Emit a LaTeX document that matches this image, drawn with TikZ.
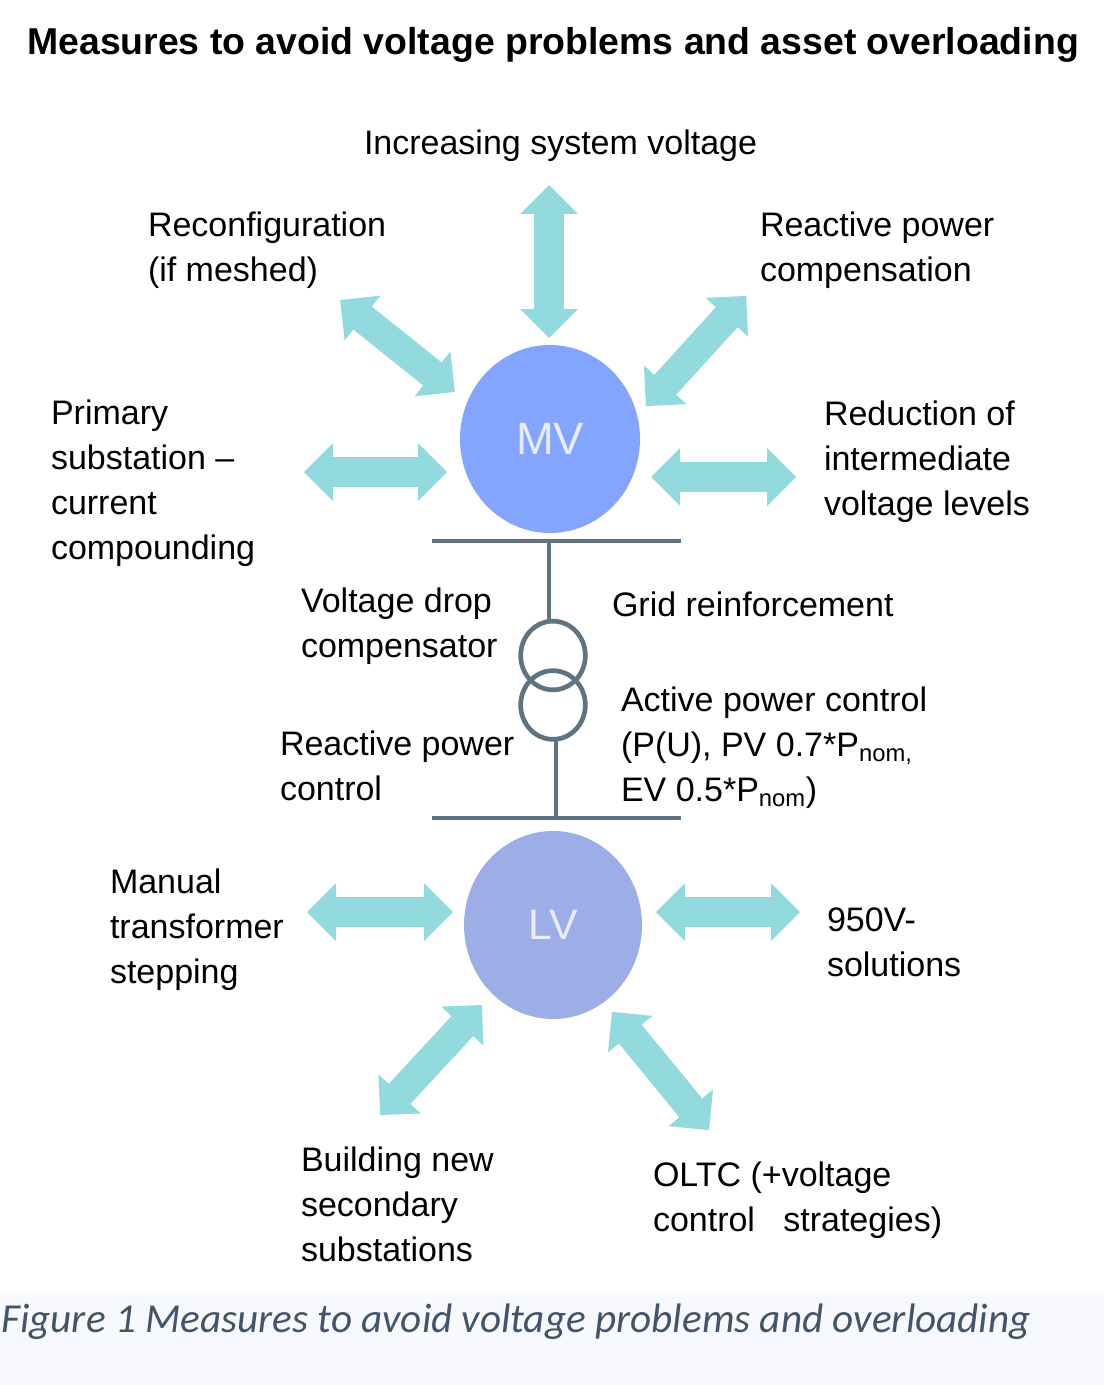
\documentclass[tikz,border=0pt]{standalone}
\usepackage{fontspec}
\setmainfont{Liberation Sans}
\newfontfamily\captionfont{Carlito}
\usetikzlibrary{shapes.arrows, shapes.geometric}
\definecolor{arrowteal}{HTML}{93DADF}
\definecolor{mvblue}{HTML}{84A5FF}
\definecolor{lvblue}{HTML}{9DAEE6}
\definecolor{busgray}{HTML}{5F7480}
\definecolor{captionink}{HTML}{44546A}
\definecolor{captionback}{HTML}{F7F9FE}
\tikzstyle{measure} = [shape=double arrow, fill=arrowteal, draw=none, inner sep=0pt, outer sep=0pt, text height=21.75pt, text depth=0pt, text width=0pt, double arrow head extend=10.5pt, double arrow tip angle=90]
\tikzstyle{field} = [inner sep=0pt, outer sep=0pt, anchor=west, align=left, font=\fontsize{25.5}{33.75}\selectfont]
\tikzstyle{bubble} = [ellipse, inner sep=0pt, outer sep=0pt, text=white!92!blue, minimum height=141pt]
\tikzstyle{winding} = [ellipse, draw=busgray, line width=3.5pt, inner sep=0pt, outer sep=0pt, minimum width=48.5pt, minimum height=51.5pt]
\tikzstyle{busline} = [draw=busgray, line width=3.5pt]

\begin{document}
\begin{tikzpicture}[x=0.75pt, y=-0.75pt]

        \useasboundingbox (0,0) rectangle (1104,1385);
        \fill[captionback] (0,1293) rectangle (1104,1385);

        \node (title) [inner sep=0pt, anchor=west, font=\fontsize{28.05}{34}\selectfont\bfseries] at (27,45) {Measures to avoid voltage problems and asset overloading};

        \node (mv) [bubble, fill=mvblue, minimum width=135pt, font=\fontsize{34}{38}\selectfont] at (550,439) {MV};
        \node (lv) [bubble, fill=lvblue, minimum width=133.5pt, font=\fontsize{32}{36}\selectfont] at (553,925) {LV};

        % measures around MV
        \node (uparrow) [measure, minimum height=114.75pt, rotate=90] at (549,261.5) {};
        \node (nwarrow) [measure, minimum height=110.25pt, rotate=-38.7] at (397.5,346) {};
        \node (nearrow) [measure, minimum height=111.75pt, rotate=47.7] at (696,351) {};
        \node (warrow) [measure, minimum height=107.25pt] at (375.5,472) {};
        \node (earrow) [measure, minimum height=108.75pt] at (723.5,477) {};

        % measures around LV
        \node (lvwarrow) [measure, minimum height=109.5pt] at (380,912) {};
        \node (lvearrow) [measure, minimum height=108pt] at (728,912) {};
        \node (swarrow) [measure, minimum height=112.5pt, rotate=47.2] at (431,1060) {};
        \node (searrow) [measure, minimum height=114.75pt, rotate=-50.6] at (660.5,1071) {};

        % buses and transformer
        \coordinate (mvbusl) at (432,541);
        \coordinate (mvbusr) at (681,541);
        \coordinate (lvbusl) at (432,818);
        \coordinate (lvbusr) at (681,818);
        \coordinate (mvtap) at (549,541);
        \coordinate (lvtap) at (556,818);
        \node (trafoup) [winding] at (553,655.5) {};
        \node (trafolow) [winding] at (553,705) {};
        \draw[busline] (mvbusl) -- (mvbusr);
        \draw[busline] (lvbusl) -- (lvbusr);
        \draw[busline] (mvtap) -- (mvtap |- trafoup.north);
        \draw[busline] (lvtap) -- (lvtap |- trafolow.south);

        \node (system) [field] at (364,146) {Increasing system voltage};
        \node (reconf) [field] at (148,250) {Reconfiguration\\(if meshed)};
        \node (compens) [field] at (760,250) {Reactive power\\compensation};
        \node (primary) [field] at (51,483) {Primary\\substation --\\current\\compounding};
        \node (levels) [field] at (824,461.5) {Reduction of\\intermediate\\voltage levels};
        \node (dropcomp) [field] at (301,626) {Voltage drop\\compensator};
        \node (grid) [field] at (612,604) {Grid reinforcement};
        \node (active) [field] at (621,748) {Active power control\\(P(U), PV 0.7*P\textsubscript{nom,}\\EV 0.5*P\textsubscript{nom})};
        \node (reactive) [field] at (280,766) {Reactive power\\control};
        \node (manual) [field] at (110,930) {Manual\\transformer\\stepping};
        \node (solutions) [field] at (827,942) {950V-\\solutions};
        \node (building) [field] at (301,1204) {Building new\\secondary\\substations};
        \node (oltc) [field] at (653,1200) {OLTC (+voltage\\control\ \ \ strategies)};

        \node (caption) [inner sep=0pt, anchor=base west, text=captionink, font=\fontsize{30.9}{36}\selectfont\captionfont\itshape] at (1,1332) {Figure 1 Measures to avoid voltage problems and overloading};

    \end{tikzpicture}
\end{document}
